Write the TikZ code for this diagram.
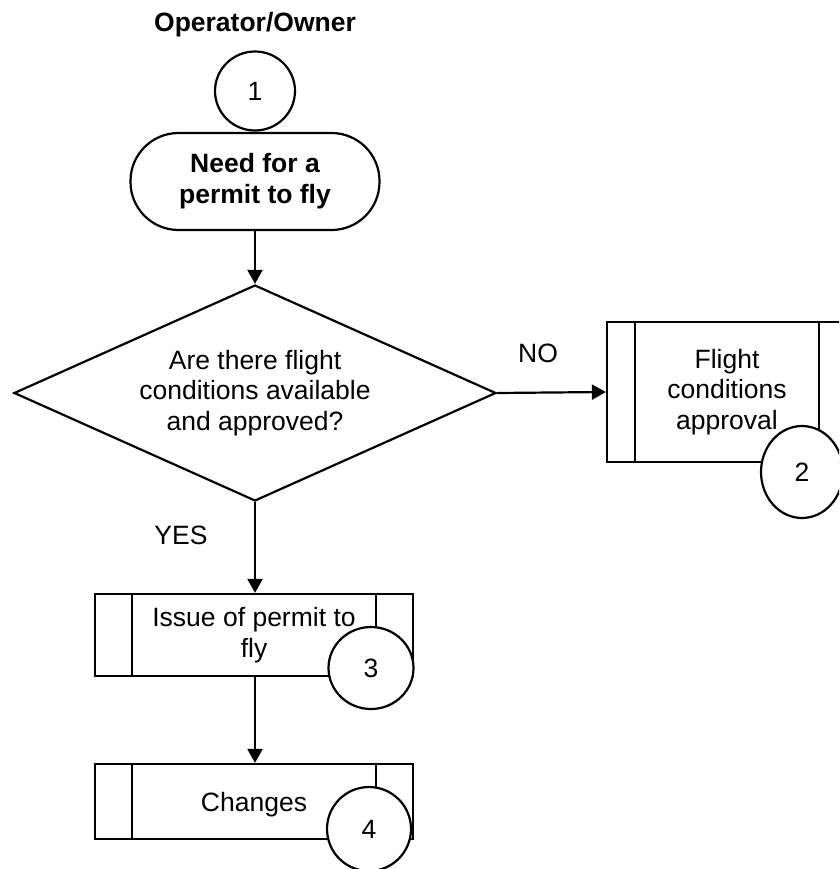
\documentclass[tikz,border=0pt]{standalone}
\usepackage{fontspec}
\setmainfont{Liberation Sans}
\usetikzlibrary{shapes.geometric,arrows.meta}

\tikzset{
  x=1pt, y=-1pt,
  every node/.style={font=\fontsize{26.5}{30.5}\selectfont, align=center},
  flow/.style={line width=2.2pt},
  arrowline/.style={flow, -{Triangle[length=14pt,width=15pt]}},
  terminal/.style={flow, draw, rectangle, rounded corners=48pt,
    minimum width=249pt, minimum height=97pt, inner sep=0pt},
  decision/.style={flow, draw, diamond, aspect=2.23, inner sep=0pt,
    minimum width=482pt, minimum height=216pt},
  procbox/.style={flow, draw, rectangle, inner sep=0pt},
  refcircle/.style={flow, draw, fill=white, ellipse, inner sep=0pt},
  lbl/.style={inner sep=0pt}
}

% vertical bars of a predefined-process box
\newcommand{\procbars}[2]{%
  \draw[flow] ([xshift=#2pt]#1.north west) -- ([xshift=#2pt]#1.south west);
  \draw[flow] ([xshift=-#2pt]#1.north east) -- ([xshift=-#2pt]#1.south east);
}

\begin{document}
\begin{tikzpicture}
  \useasboundingbox (0,0) rectangle (839,869);
  \clip (0,0) rectangle (839,869);

  \node[lbl, font=\fontsize{26.5}{30.5}\selectfont\bfseries] (title) at (255,25) {Operator/Owner};

  \node[terminal, font=\fontsize{26.5}{31}\selectfont\bfseries] (start) at (255,181.5) {Need for a\\permit to fly};

  \node[decision] (dec) at (255,393) {Are there flight\\conditions available\\and approved?};

  \node[procbox, minimum width=240pt, minimum height=140pt] (fca) at (727,392) {Flight\\conditions\\approval};
  \procbars{fca}{29}

  \node[procbox, minimum width=318pt, minimum height=82pt] (issue) at (254,635) {Issue of permit to\\fly};
  \procbars{issue}{38}

  \node[procbox, minimum width=318pt, minimum height=75pt] (chg) at (254,801.5) {};
  \node[lbl] (chgtext) at (254,805) {Changes};
  \procbars{chg}{38}

  % numbered reference circles
  \node[refcircle, minimum width=80pt, minimum height=79pt] (c1) at (255,91) {1};
  \node[refcircle, minimum width=82pt, minimum height=92pt] (c2) at (802,472) {2};
  \node[refcircle, minimum width=85pt, minimum height=82pt] (c3) at (371,668) {3};
  \node[refcircle, minimum width=84pt, minimum height=84pt] (c4) at (369,829) {4};

  % connectors
  \draw[arrowline] (start.south) -- (dec.north);
  \draw[arrowline] (dec.east) -- (fca.west);
  \draw[arrowline] (dec.south) -- (dec.south |- issue.north);
  \draw[arrowline] (dec.south |- issue.south) -- (dec.south |- chg.north);

  \node[lbl] (no) at (538,353) {NO};
  \node[lbl] (yes) at (181,535) {YES};
\end{tikzpicture}
\end{document}
